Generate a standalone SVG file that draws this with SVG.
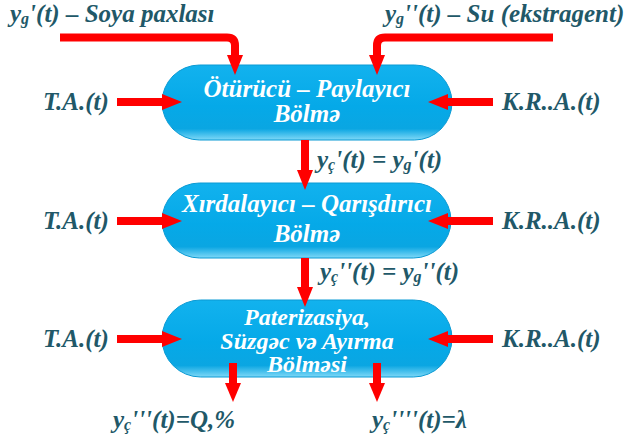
<svg xmlns="http://www.w3.org/2000/svg" width="634" height="439" viewBox="0 0 634 439">
  <defs>
    <linearGradient id="pillFill" x1="0" y1="0" x2="0" y2="1">
      <stop offset="0" stop-color="#12b2ee"/>
      <stop offset="0.55" stop-color="#05a9e8"/>
      <stop offset="0.85" stop-color="#0aa6e2"/>
      <stop offset="1" stop-color="#7fd8f7"/>
    </linearGradient>
  </defs>

  <!-- process blocks -->
  <g id="node-oturucu">
    <rect x="162" y="65" width="290" height="75" rx="37.5" fill="url(#pillFill)" stroke="#0a9ad4" stroke-width="1"/>
    <text x="307" y="97" text-anchor="middle" fill="#ffffff" font-family="Liberation Serif" font-weight="bold" font-style="italic" font-size="25">Ötürücü – Paylayıcı</text>
    <text x="307" y="122" text-anchor="middle" fill="#ffffff" font-family="Liberation Serif" font-weight="bold" font-style="italic" font-size="25">Bölmə</text>
  </g>
  <g id="node-xirdalayici">
    <rect x="162" y="183" width="289" height="75" rx="37.5" fill="url(#pillFill)" stroke="#0a9ad4" stroke-width="1"/>
    <text x="307" y="212" text-anchor="middle" fill="#ffffff" font-family="Liberation Serif" font-weight="bold" font-style="italic" font-size="25">Xırdalayıcı – Qarışdırıcı</text>
    <text x="307" y="242" text-anchor="middle" fill="#ffffff" font-family="Liberation Serif" font-weight="bold" font-style="italic" font-size="25">Bölmə</text>
  </g>
  <g id="node-paterizasiya">
    <rect x="162" y="300" width="290" height="77" rx="38.5" fill="url(#pillFill)" stroke="#0a9ad4" stroke-width="1"/>
    <text x="307" y="325" text-anchor="middle" fill="#ffffff" font-family="Liberation Serif" font-weight="bold" font-style="italic" font-size="24">Paterizasiya,</text>
    <text x="307" y="349" text-anchor="middle" fill="#ffffff" font-family="Liberation Serif" font-weight="bold" font-style="italic" font-size="24">Süzgəc və Ayırma</text>
    <text x="307" y="372" text-anchor="middle" fill="#ffffff" font-family="Liberation Serif" font-weight="bold" font-style="italic" font-size="24">Bölməsi</text>
  </g>

  <!-- flows: shafts, then heads -->
  <g id="connectors">
    <g fill="none" stroke="#ff0000" stroke-width="8">
      <path d="M60,37.5 H227 Q235,37.5 235,45.5 V56"/>
      <path d="M553,37.5 H385 Q377,37.5 377,45.5 V56"/>
      <path d="M117,102 H164"/>
      <path d="M117,221 H164"/>
      <path d="M117,339 H164"/>
      <path d="M493,102 H446"/>
      <path d="M493,221 H446"/>
      <path d="M493,339 H446"/>
      <path d="M305,140 V171"/>
      <path d="M305,258 V288"/>
      <path d="M233,363 V384"/>
      <path d="M377,363 V384"/>
    </g>
    <g fill="#ff0000">
      <path d="M227,55 L243,55 L235,75 Z"/>
      <path d="M369,55 L385,55 L377,75 Z"/>
      <path d="M162,94 L182,102 L162,110 Z"/>
      <path d="M162,213 L182,221 L162,229 Z"/>
      <path d="M162,331 L182,339 L162,347 Z"/>
      <path d="M448,94 L428,102 L448,110 Z"/>
      <path d="M448,213 L428,221 L448,229 Z"/>
      <path d="M448,331 L428,339 L448,347 Z"/>
      <path d="M297,170 L313,170 L305,190 Z"/>
      <path d="M297,287 L313,287 L305,307 Z"/>
      <path d="M225,383 L241,383 L233,402 Z"/>
      <path d="M369,383 L385,383 L377,402 Z"/>
    </g>
  </g>

  <!-- signal labels -->
  <g id="labels">
    <text x="10" y="22" fill="#215868" font-family="Liberation Serif" font-weight="bold" font-style="italic" font-size="25">y<tspan font-size="16" dy="2">g</tspan><tspan dy="-2">'(t) – Soya paxlası</tspan></text>
    <text x="385" y="22" fill="#215868" font-family="Liberation Serif" font-weight="bold" font-style="italic" font-size="25">y<tspan font-size="16" dy="2">g</tspan><tspan dy="-2">''(t) – Su (ekstragent)</tspan></text>
    <text x="43" y="110" fill="#215868" font-family="Liberation Serif" font-weight="bold" font-style="italic" font-size="25">T.A.(t)</text>
    <text x="43" y="229" fill="#215868" font-family="Liberation Serif" font-weight="bold" font-style="italic" font-size="25">T.A.(t)</text>
    <text x="43" y="347" fill="#215868" font-family="Liberation Serif" font-weight="bold" font-style="italic" font-size="25">T.A.(t)</text>
    <text x="502" y="110" fill="#215868" font-family="Liberation Serif" font-weight="bold" font-style="italic" font-size="25">K.R..A.(t)</text>
    <text x="502" y="229" fill="#215868" font-family="Liberation Serif" font-weight="bold" font-style="italic" font-size="25">K.R..A.(t)</text>
    <text x="502" y="347" fill="#215868" font-family="Liberation Serif" font-weight="bold" font-style="italic" font-size="25">K.R..A.(t)</text>
    <text x="317" y="168" fill="#215868" font-family="Liberation Serif" font-weight="bold" font-style="italic" font-size="25">y<tspan font-size="16" dy="2">ç</tspan><tspan dy="-2">'(t) = y</tspan><tspan font-size="16" dy="2">g</tspan><tspan dy="-2">'(t)</tspan></text>
    <text x="320" y="280" fill="#215868" font-family="Liberation Serif" font-weight="bold" font-style="italic" font-size="25">y<tspan font-size="16" dy="2">ç</tspan><tspan dy="-2">''(t) = y</tspan><tspan font-size="16" dy="2">g</tspan><tspan dy="-2">''(t)</tspan></text>
    <text x="113" y="428" fill="#215868" font-family="Liberation Serif" font-weight="bold" font-style="italic" font-size="25">y<tspan font-size="16" dy="2">ç</tspan><tspan dy="-2">'''(t)=Q,%</tspan></text>
    <text x="372" y="428" fill="#215868" font-family="Liberation Serif" font-weight="bold" font-style="italic" font-size="25">y<tspan font-size="16" dy="2">ç</tspan><tspan dy="-2">''''(t)=λ</tspan></text>
  </g>
</svg>
